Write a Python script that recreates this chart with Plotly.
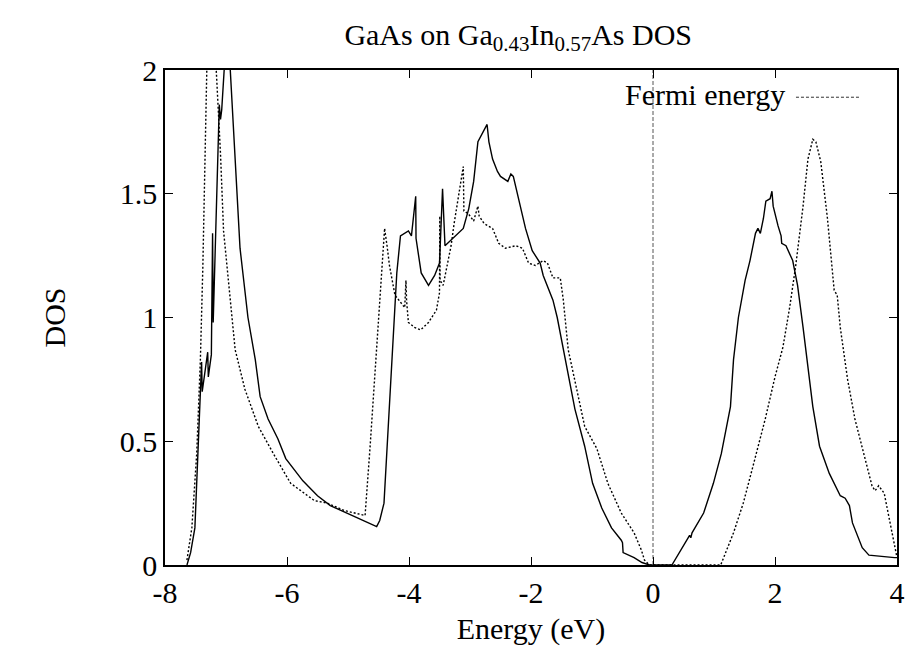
import plotly.graph_objects as go

# Solid curve (GaAs) DOS
solid_e = [-7.64, -7.58, -7.51, -7.45, -7.40, -7.39, -7.30, -7.29, -7.24, -7.22, -7.21,
           -7.11, -7.09, -7.07, -7.03, -6.96, -6.93, -6.77, -6.64, -6.52, -6.44, -6.31,
           -6.15, -6.02, -5.74, -5.50, -5.29, -4.53, -4.48, -4.41, -4.33, -4.27, -4.20,
           -4.14, -4.07, -4.01, -3.96, -3.89, -3.885, -3.80, -3.68, -3.58, -3.50, -3.45,
           -3.41, -3.28, -3.11, -3.02, -2.94, -2.87, -2.79, -2.72, -2.69, -2.63, -2.55,
           -2.50, -2.38, -2.33, -2.29, -2.20, -2.09, -1.98, -1.85, -1.80, -1.64, -1.57,
           -1.44, -1.28, -1.12, -0.99, -0.84, -0.68, -0.52, -0.50, -0.49, -0.31, -0.18,
           -0.06, 0.31, 0.46, 0.60, 0.62, 0.64, 0.83, 0.99, 1.12, 1.27, 1.32, 1.40, 1.51,
           1.59, 1.68, 1.72, 1.76, 1.81, 1.85, 1.92, 1.95, 1.97, 2.05, 2.10, 2.11, 2.18,
           2.29, 2.37, 2.46, 2.54, 2.62, 2.73, 2.89, 3.07, 3.15, 3.22, 3.27, 3.43, 3.54,
           3.96, 4.00]
solid_dos = [0.00, 0.05, 0.15, 0.56, 0.82, 0.70, 0.86, 0.76, 0.85, 1.34, 0.98,
             1.86, 1.80, 1.84, 2.00, 2.15, 2.00, 1.28, 1.00, 0.83, 0.68, 0.59,
             0.51, 0.43, 0.34, 0.28, 0.24, 0.155, 0.18, 0.25, 0.60, 0.87, 1.18,
             1.33, 1.34, 1.35, 1.33, 1.49, 1.32, 1.18, 1.13, 1.17, 1.22, 1.52,
             1.29, 1.32, 1.36, 1.44, 1.55, 1.71, 1.75, 1.78, 1.71, 1.64, 1.59,
             1.57, 1.55, 1.58, 1.57, 1.47, 1.36, 1.27, 1.22, 1.17, 1.07, 1.00,
             0.83, 0.63, 0.48, 0.33, 0.23, 0.15, 0.10, 0.09, 0.05, 0.03, 0.01,
             0.00, 0.00, 0.06, 0.12, 0.11, 0.13, 0.21, 0.33, 0.45, 0.64, 0.83, 1.00, 1.15,
             1.23, 1.34, 1.36, 1.34, 1.40, 1.47, 1.48, 1.51, 1.45, 1.37, 1.33, 1.30, 1.29,
             1.23, 1.13, 0.96, 0.80, 0.64, 0.48, 0.37, 0.28, 0.27, 0.24, 0.17, 0.07, 0.04,
             0.03, 0.03]

# Dotted curve (Ga0.43In0.57As substrate) DOS
dotted_e = [-7.64, -7.56, -7.48, -7.42, -7.38, -7.35, -7.32, -7.27, -7.16, -7.09, -7.04,
            -6.96, -6.85, -6.69, -6.47, -6.20, -5.94, -5.55, -5.34, -5.06, -4.72, -4.64,
            -4.57, -4.53, -4.46, -4.40, -4.36, -4.32, -4.23, -4.17, -4.07, -4.05, -4.04,
            -4.01, -3.91, -3.81, -3.68, -3.55, -3.50, -3.495, -3.49, -3.44, -3.39, -3.31,
            -3.26, -3.19, -3.11, -3.10, -3.03, -2.94, -2.87, -2.85, -2.77, -2.63, -2.53,
            -2.42, -2.25, -2.14, -2.04, -1.93, -1.80, -1.73, -1.64, -1.52, -1.47, -1.39,
            -1.28, -1.12, -0.92, -0.74, -0.52, -0.31, -0.19, -0.14, -0.06, 1.11, 1.32,
            1.48, 1.64, 1.84, 2.00, 2.13, 2.24, 2.34, 2.46, 2.54, 2.62, 2.67, 2.75, 2.86,
            2.97, 3.02, 3.07, 3.19, 3.31, 3.46, 3.59, 3.64, 3.70, 3.79, 3.87, 3.95, 4.00]
dotted_dos = [0.02, 0.15, 0.45, 0.83, 1.20, 1.60, 1.99, 2.55, 2.00, 1.66, 1.35,
              1.14, 0.87, 0.71, 0.56, 0.44, 0.33, 0.26, 0.25, 0.22, 0.20, 0.47,
              0.74, 0.87, 1.13, 1.36, 1.29, 1.21, 1.09, 1.07, 1.04, 1.15, 1.07,
              0.98, 0.96, 0.95, 0.98, 1.03, 1.10, 1.41, 1.15, 1.13, 1.19, 1.29,
              1.38, 1.49, 1.61, 1.43, 1.42, 1.39, 1.45, 1.41, 1.38, 1.36, 1.30,
              1.28, 1.29, 1.28, 1.22, 1.21, 1.23, 1.22, 1.16, 1.16, 1.07, 0.87,
              0.74, 0.56, 0.47, 0.33, 0.21, 0.13, 0.06, 0.02, 0.00, 0.00, 0.13,
              0.25, 0.40, 0.59, 0.76, 0.88, 1.04, 1.21, 1.45, 1.64, 1.72, 1.71, 1.63, 1.40,
              1.11, 1.09, 0.96, 0.75, 0.59, 0.45, 0.32, 0.30, 0.32, 0.29, 0.19, 0.09, 0.03]

fermi_energy = 0.0
x_ticks = [-8, -6, -4, -2, 0, 2, 4]
y_ticks = [0, 0.5, 1, 1.5, 2]
y_tick_text = ["0", "0.5", "1", "1.5", "2"]

FONT = "Liberation Serif"
FS = 30

fig = go.Figure()
fig.add_trace(go.Scatter(x=solid_e, y=solid_dos, mode="lines",
                         line=dict(color="black", width=1.4), showlegend=False))
fig.add_trace(go.Scatter(x=dotted_e, y=dotted_dos, mode="lines",
                         line=dict(color="black", width=1.4, dash="2px,2px"), showlegend=False))
fig.add_trace(go.Scatter(x=[fermi_energy, fermi_energy], y=[0, 2], mode="lines",
                         line=dict(color="#555555", width=1, dash="4px,2px"), showlegend=False))

# legend (gnuplot style: text then sample)
fig.add_annotation(xref="paper", yref="paper", x=0.85, y=0.95, xanchor="right", yanchor="middle",
                   text="Fermi energy", showarrow=False, font=dict(family=FONT, size=FS, color="black"))
fig.add_shape(type="line", xref="paper", yref="paper", x0=0.862, x1=0.949, y0=0.945, y1=0.945,
              line=dict(color="#333333", width=1, dash="3px,2px"))

axis_common = dict(showline=True, linecolor="black", linewidth=1.5, mirror="ticks",
                   ticks="inside", ticklen=8, tickwidth=1, tickcolor="black",
                   showgrid=False, zeroline=False,
                   tickfont=dict(family=FONT, size=FS, color="black"))

fig.update_xaxes(range=[-8, 4], tickvals=x_ticks, ticktext=[str(v) for v in x_ticks],
                 title=dict(text="Energy (eV)", font=dict(family=FONT, size=FS, color="black"), standoff=10),
                 **axis_common)
fig.update_yaxes(range=[0, 2], tickvals=y_ticks, ticktext=y_tick_text,
                 title=dict(text="DOS", font=dict(family=FONT, size=FS, color="black"), standoff=45),
                 **axis_common)

fig.update_layout(
    width=914, height=651,
    margin=dict(l=165, r=9, t=70, b=86),
    paper_bgcolor="white", plot_bgcolor="white",
    title=dict(text="GaAs on Ga<sub>0.43</sub>In<sub>0.57</sub>As DOS", x=0.567, xanchor="center",
               y=0.947, yanchor="middle", font=dict(family=FONT, size=FS, color="black")),
)

fig.write_html("out.html")
